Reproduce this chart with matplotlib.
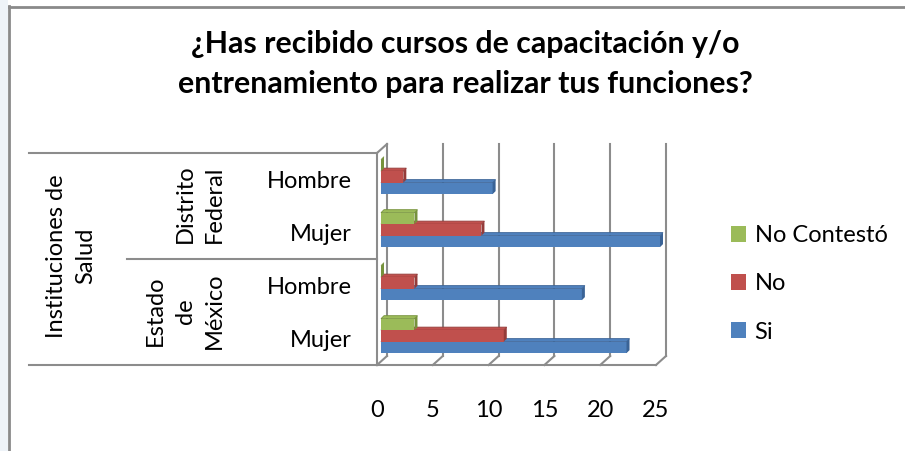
"""
Barras horizontales con efecto 3D (estilo Excel): capacitación por sexo y entidad.
"""
import matplotlib
matplotlib.use("Agg")
import matplotlib.pyplot as plt
from matplotlib.patches import Polygon, Patch, Rectangle
from matplotlib.transforms import ScaledTranslation, blended_transform_factory

plt.rcParams["font.family"] = ["Lato", "DejaVu Sans"]

TITLE = "¿Has recibido cursos de capacitación y/o\nentrenamiento para realizar tus funciones?"
CATEGORIAS = ["Mujer", "Hombre", "Mujer", "Hombre"]          # de abajo hacia arriba
GRUPOS = ["Estado\nde\nMéxico", "Distrito\nFederal"]
GRUPO_SUPERIOR = "Instituciones de\nSalud"
SERIES = ["Si", "No", "No Contestó"]
SI = [22, 18, 25, 10]
NO = [11, 3, 9, 2]
NO_CONTESTO = [3, 0, 3, 0]
XTICKS = [0, 5, 10, 15, 20, 25]

COLORES = ["#4f81bd", "#c0504d", "#9bbb59"]
LADOS = ["#3a6396", "#943c3a", "#76923c"]
GRIS = "#8c8c8c"
FS = 17

W, H, DPI = 905, 451, 100
fig = plt.figure(figsize=(W / DPI, H / DPI), dpi=DPI)

# eje: frente x 377..656 px, y 153..365 px
ax = fig.add_axes([377 / W, (H - 365) / H, 279 / W, 212 / H])
ax.set_xlim(0, 25)
ax.set_ylim(-0.5, 3.5)
for s in ax.spines.values():
    s.set_visible(False)
ax.patch.set_visible(False)

px_x = 25 / 279      # unidades de datos por pixel
px_y = 4 / 212

# pared del fondo (desplazada 10 px derecha, 9 px arriba)
back = ax.transData + ScaledTranslation(10 / DPI, 9 / DPI, fig.dpi_scale_trans)
for xt in XTICKS:
    ax.plot([xt, xt], [-0.5, 3.5], color=GRIS, lw=1.5, transform=back, clip_on=False)
    ax.plot([xt, xt + 10 * px_x], [-0.5, -0.5 + 9 * px_y], color=GRIS, lw=1.5, clip_on=False)
ax.plot([0, 25], [-0.5, -0.5], color=GRIS, lw=1.5, clip_on=False)
ax.plot([0, 0], [-0.5, 3.5], color=GRIS, lw=1.5, clip_on=False)
ax.plot([0, 10 * px_x], [3.5, 3.5 + 9 * px_y], color=GRIS, lw=1.5, clip_on=False)

# barras con caras superior y lateral
offsets = [-0.243, -0.026, 0.19]
alto = 0.217
d = 3
sh_x, sh_y = 4 * px_x, 4 * px_y
for k, vals in enumerate([SI, NO, NO_CONTESTO]):
    for i, v in enumerate(vals):
        y0 = i + offsets[k] - alto / 2 + sh_y
        x0 = sh_x
        x1 = v + sh_x
        ax.add_patch(Rectangle((x0, y0), v, alto, facecolor=COLORES[k], edgecolor="none",
                               clip_on=False, zorder=3))
        top = [(x0, y0 + alto), (x1, y0 + alto),
               (x1 + d * px_x, y0 + alto + d * px_y), (x0 + d * px_x, y0 + alto + d * px_y)]
        side = [(x1, y0), (x1, y0 + alto), (x1 + d * px_x, y0 + alto + d * px_y),
                (x1 + d * px_x, y0 + d * px_y)]
        ax.add_patch(Polygon(top, closed=True, facecolor=COLORES[k], edgecolor=LADOS[k],
                             lw=0.6, clip_on=False, zorder=2))
        ax.add_patch(Polygon(side, closed=True, facecolor=LADOS[k], edgecolor="none",
                             clip_on=False, zorder=4))

ax.set_xticks(XTICKS)
ax.set_xticklabels([str(t) for t in XTICKS], fontsize=FS)
ax.set_yticks(range(len(CATEGORIAS)))
ax.set_yticklabels(CATEGORIAS, fontsize=FS)
ax.tick_params(axis="x", length=0, pad=25)
ax.tick_params(axis="y", length=0, pad=18)

# tabla de categorías multinivel
tr = blended_transform_factory(fig.transFigure, ax.transData)
for y, xa in [(3.5, 29), (-0.5, 29), (1.5, 127)]:
    ax.plot([xa / W, 377 / W], [y, y], color=GRIS, lw=1.5, transform=tr, clip_on=False)
fig.text(200 / W, 1 - 204 / H, GRUPOS[1], rotation=90, ha="center", va="center",
         fontsize=FS, linespacing=1.5)
fig.text(185 / W, 1 - 311 / H, GRUPOS[0], rotation=90, ha="center", va="center",
         fontsize=FS, linespacing=1.5)
fig.text(71 / W, 1 - 256 / H, GRUPO_SUPERIOR, rotation=90, ha="center", va="center",
         fontsize=FS, linespacing=1.5, multialignment="center")

# título
fig.text(465 / W, 1 - 64 / H, TITLE, ha="center", va="center", fontsize=21.8,
         fontweight="bold", linespacing=1.55)

# leyenda
handles = [Patch(facecolor=COLORES[k], edgecolor="none") for k in (2, 1, 0)]
fig.legend(handles, [SERIES[k] for k in (2, 1, 0)], loc="center left",
           bbox_to_anchor=(731 / W, 1 - 284 / H), frameon=False, fontsize=FS,
           handlelength=0.65, handleheight=0.65, handletextpad=0.35, labelspacing=1.15,
           borderpad=0, borderaxespad=0)

# marco de la imagen
fig.patches.append(Rectangle((0, 0), 8 / W, 1, transform=fig.transFigure,
                             facecolor="#eef3f8", edgecolor="none"))
fig.lines.append(plt.Line2D([8.5 / W, 8.5 / W], [0, 1 - 6 / H], transform=fig.transFigure,
                            color="#8a8a8a", lw=2))
fig.lines.append(plt.Line2D([8.5 / W, 1], [1 - 6.5 / H, 1 - 6.5 / H], transform=fig.transFigure,
                            color="#8a8a8a", lw=2))

fig.savefig("out.png", dpi=DPI)
